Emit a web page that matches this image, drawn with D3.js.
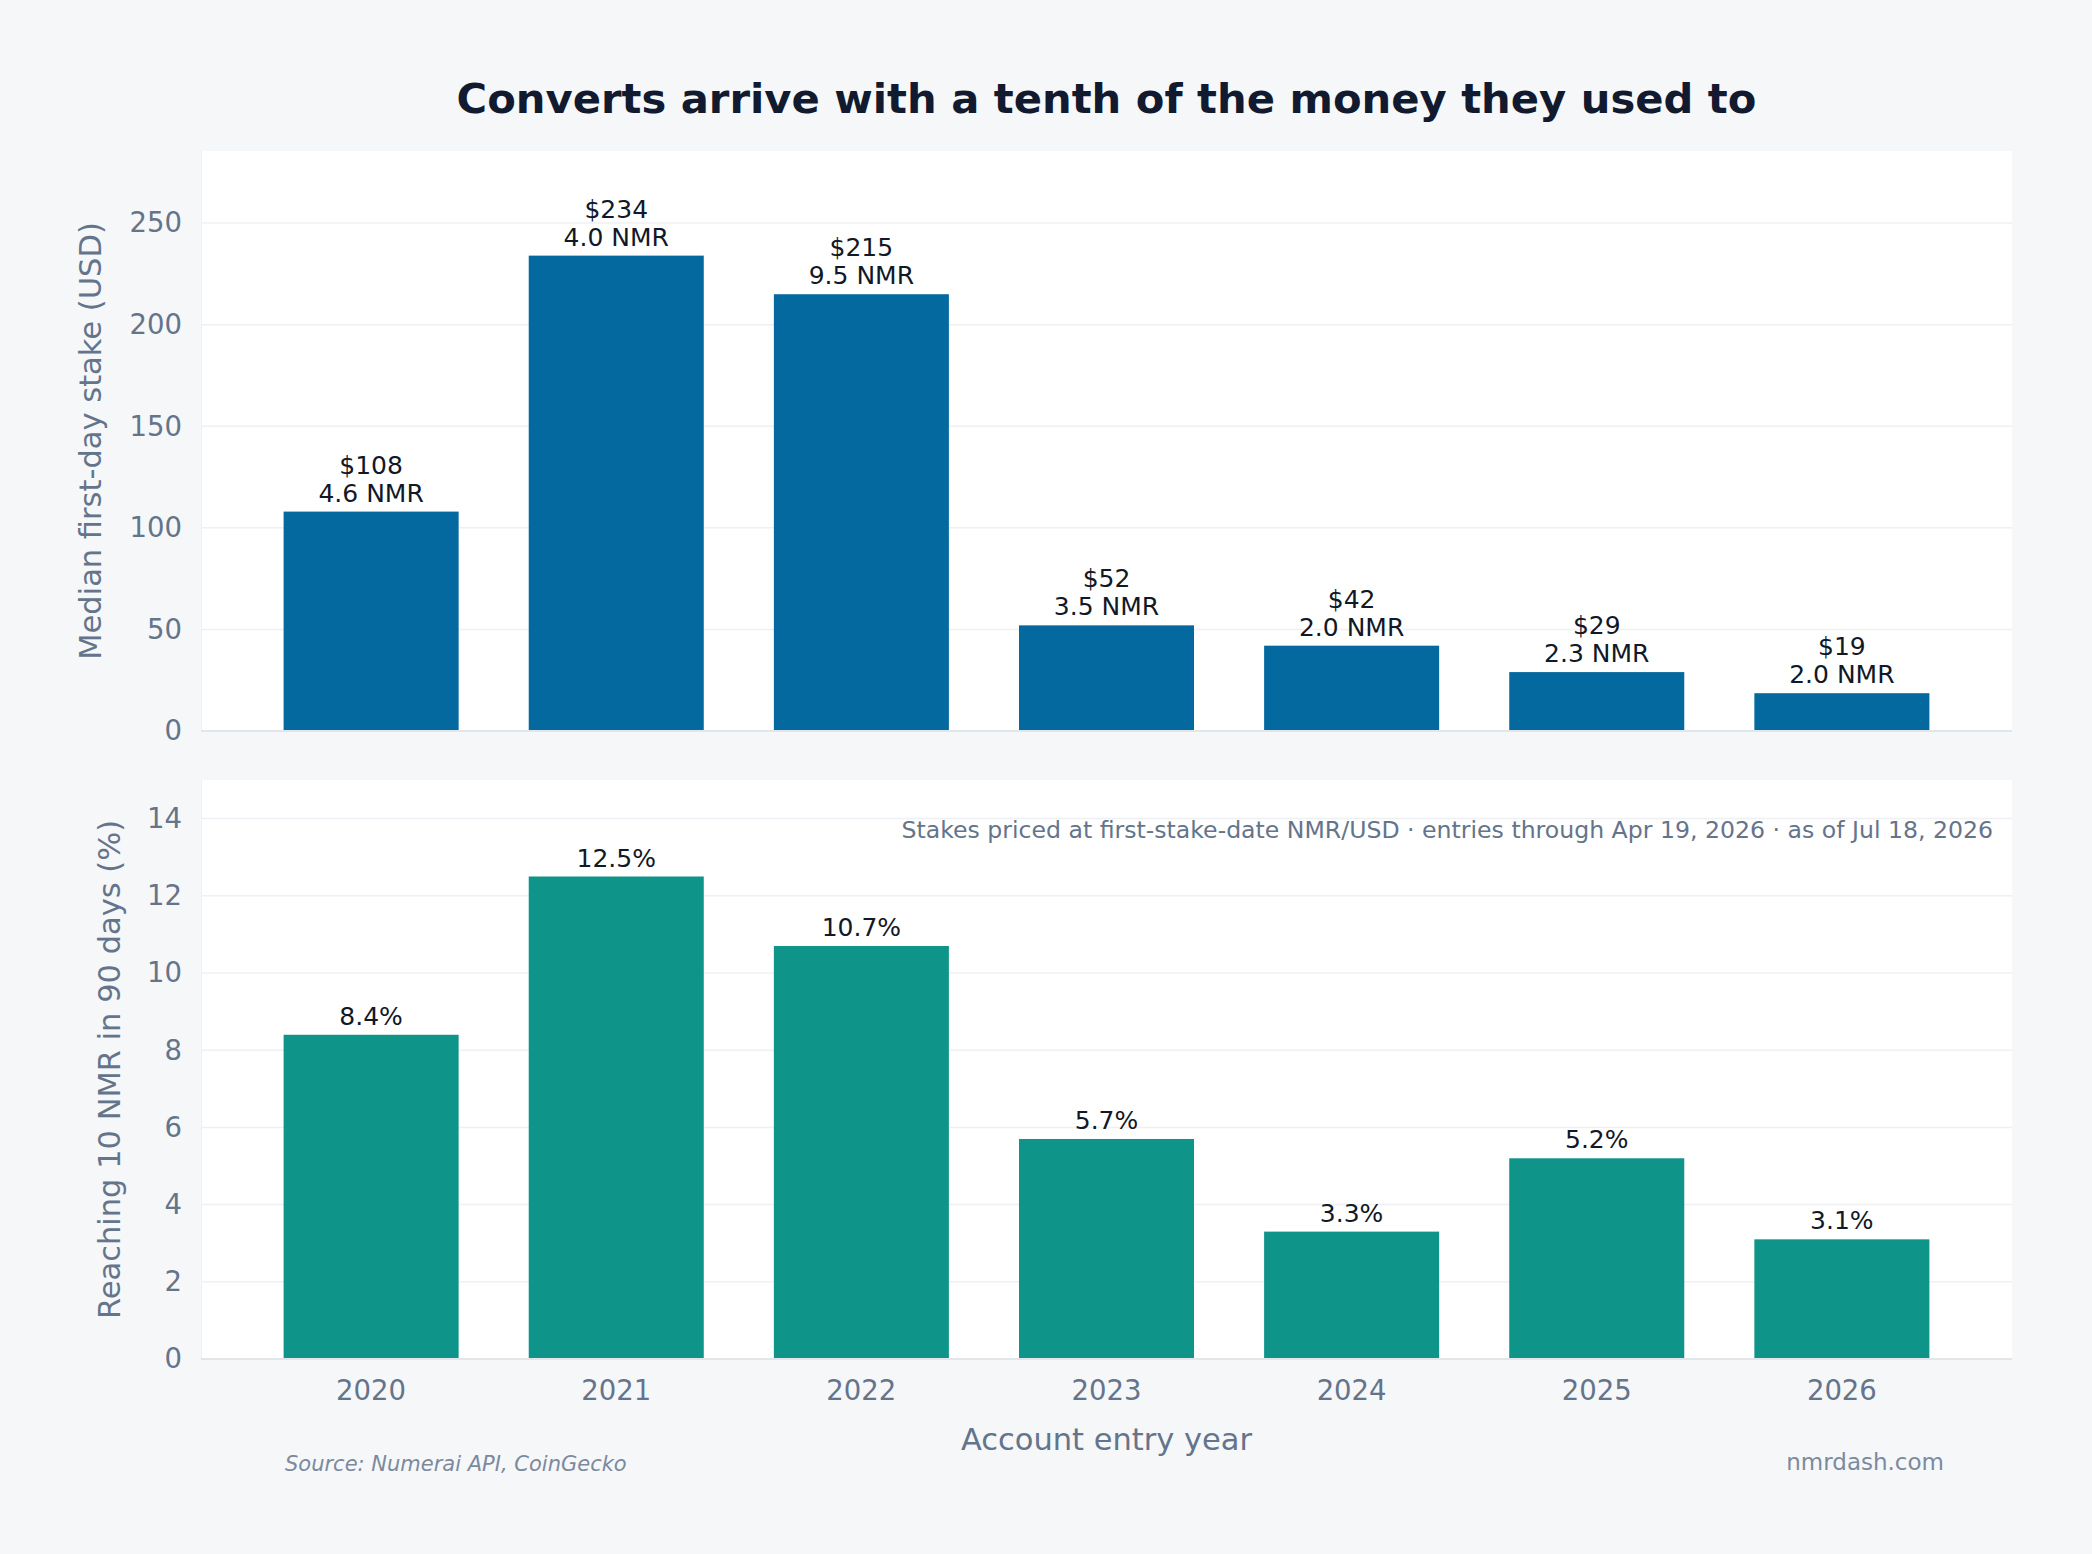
<!DOCTYPE html>
<html>
<head>
<meta charset="utf-8">
<script src="https://cdn.jsdelivr.net/npm/d3@7"></script>
<style>
  body { margin: 0; background: #f6f7f9; }
  svg { display: block; font-family: "DejaVu Sans", sans-serif; }
</style>
</head>
<body>
<script>
// data
var years = ["2020", "2021", "2022", "2023", "2024", "2025", "2026"];
var stakeUsd = [108, 234, 215, 52, 42, 29, 18.6];
var stakeNmr = [4.6, 4.0, 9.5, 3.5, 2.0, 2.3, 2.0];
var reach10 = [8.4, 12.5, 10.7, 5.7, 3.3, 5.2, 3.1];
var usdTicks = [0, 50, 100, 150, 200, 250];
var pctTicks = [0, 2, 4, 6, 8, 10, 12, 14];

var W = 2092, H = 1554;
var left = 201, right = 2012;
var top1 = 151, bot1 = 731;
var top2 = 780, bot2 = 1359;

var svg = d3.select("body").append("svg")
  .attr("width", W).attr("height", H);

svg.append("rect").attr("width", W).attr("height", H).attr("fill", "#f6f7f9");

var x = d3.scaleBand()
  .domain(years)
  .range([left, right])
  .paddingInner(0.286)
  .paddingOuter(0.337);

var y1 = d3.scaleLinear().domain([0, 285.5]).range([bot1, top1]);
var y2 = d3.scaleLinear().domain([0, 15]).range([bot2, top2]);

//draws one panel: background, grid, bars, y axis
function panel(y, ticks, values, color, top, bot, ylabel, labelX) {
  var g = svg.append("g");
  g.append("rect")
    .attr("x", left).attr("y", top)
    .attr("width", right - left).attr("height", bot - top)
    .attr("fill", "#ffffff");

  g.selectAll(".grid").data(ticks.filter(function(t) { return t > 0; }))
    .enter().append("line")
    .attr("x1", left).attr("x2", right)
    .attr("y1", function(d) { return y(d); })
    .attr("y2", function(d) { return y(d); })
    .attr("stroke", "#eef0f4")
    .attr("stroke-width", 1.5);

  g.append("line")
    .attr("x1", left + 0.5).attr("x2", left + 0.5)
    .attr("y1", top).attr("y2", bot)
    .attr("stroke", "#eef0f3");

  g.selectAll(".bar").data(values)
    .enter().append("rect")
    .attr("x", function(d, i) { return x(years[i]); })
    .attr("width", x.bandwidth())
    .attr("y", function(d) { return y(d); })
    .attr("height", function(d) { return y(0) - y(d); })
    .attr("fill", color);

  g.append("line")
    .attr("x1", left).attr("x2", right)
    .attr("y1", bot).attr("y2", bot)
    .attr("stroke", "#e2e5ea")
    .attr("stroke-width", 2);

  var ax = g.append("g")
    .attr("transform", "translate(" + left + ",0)")
    .call(d3.axisLeft(y).tickValues(ticks).tickSize(0).tickPadding(19).tickFormat(d3.format("d")));
  ax.select(".domain").remove();
  ax.selectAll("text")
    .attr("font-size", 27.5)
    .attr("font-family", "DejaVu Sans")
    .attr("fill", "#64748b");

  g.append("text")
    .attr("transform", "translate(" + labelX + "," + ((top + bot) / 2) + ") rotate(-90)")
    .attr("text-anchor", "middle")
    .attr("font-size", 30.5)
    .attr("fill", "#64748b")
    .text(ylabel);
  return g;
}

var g1 = panel(y1, usdTicks, stakeUsd, "#03699f", top1, bot1, "Median first-day stake (USD)", 101);
var g2 = panel(y2, pctTicks, reach10, "#0e9488", top2, bot2, "Reaching 10 NMR in 90 days (%)", 120);

// value labels, top panel
var fmtUsd = d3.format(".0f");
g1.selectAll(".lab1").data(stakeUsd)
  .enter().append("text")
  .attr("x", function(d, i) { return x(years[i]) + x.bandwidth() / 2; })
  .attr("y", function(d) { return y1(d) - 10 - 28; })
  .attr("text-anchor", "middle")
  .attr("font-size", 25)
  .attr("fill", "#111827")
  .text(function(d) { return "$" + fmtUsd(d); });

g1.selectAll(".lab2").data(stakeNmr)
  .enter().append("text")
  .attr("x", function(d, i) { return x(years[i]) + x.bandwidth() / 2; })
  .attr("y", function(d, i) { return y1(stakeUsd[i]) - 10; })
  .attr("text-anchor", "middle")
  .attr("font-size", 25)
  .attr("fill", "#111827")
  .text(function(d) { return d.toFixed(1) + " NMR"; });

// value labels, bottom panel
g2.selectAll(".lab3").data(reach10)
  .enter().append("text")
  .attr("x", function(d, i) { return x(years[i]) + x.bandwidth() / 2; })
  .attr("y", function(d) { return y2(d) - 10; })
  .attr("text-anchor", "middle")
  .attr("font-size", 25)
  .attr("fill", "#111827")
  .text(function(d) { return d.toFixed(1) + "%"; });

g2.append("text")
  .attr("x", 1993).attr("y", 838)
  .attr("text-anchor", "end")
  .attr("font-size", 23.6)
  .attr("fill", "#64748b")
  .text("Stakes priced at first-stake-date NMR/USD \u00b7 entries through Apr 19, 2026 \u00b7 as of Jul 18, 2026");

// x axis under the bottom panel
var xa = svg.append("g")
  .attr("transform", "translate(0," + bot2 + ")")
  .call(d3.axisBottom(x).tickSize(0).tickPadding(21));
xa.select(".domain").remove();
xa.selectAll("text")
  .attr("font-size", 27.5)
  .attr("font-family", "DejaVu Sans")
  .attr("fill", "#64748b");

svg.append("text")
  .attr("x", (left + right) / 2).attr("y", 1450)
  .attr("text-anchor", "middle")
  .attr("font-size", 30.5)
  .attr("fill", "#64748b")
  .text("Account entry year");

svg.append("text")
  .attr("x", (left + right) / 2).attr("y", 113)
  .attr("text-anchor", "middle")
  .attr("font-size", 41.7)
  .attr("font-weight", "bold")
  .attr("fill", "#111a2e")
  .text("Converts arrive with a tenth of the money they used to");

svg.append("text")
  .attr("x", 285).attr("y", 1471)
  .attr("font-size", 21)
  .attr("font-style", "italic")
  .attr("fill", "#7c8a9e")
  .text("Source: Numerai API, CoinGecko");

svg.append("text")
  .attr("x", 1944).attr("y", 1470)
  .attr("text-anchor", "end")
  .attr("font-size", 23)
  .attr("fill", "#7c8a9e")
  .text("nmrdash.com");
</script>
</body>
</html>
